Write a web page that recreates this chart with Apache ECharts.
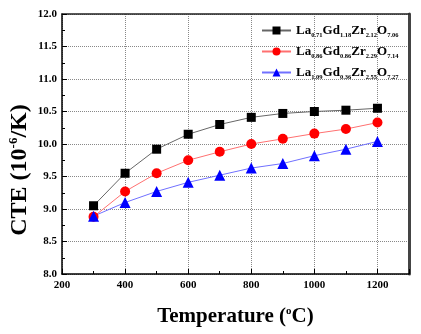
<!DOCTYPE html>
<html><head><meta charset="utf-8">
<script src="https://cdn.jsdelivr.net/npm/echarts@6/dist/echarts.min.js"></script>
<style>html,body{margin:0;padding:0;background:#fff}#c{width:421px;height:334px}</style>
</head><body><div id="c"></div>
<script>
var temperatures = [300, 400, 500, 600, 700, 800, 900, 1000, 1100, 1200];
var cteA = [9.05, 9.55, 9.92, 10.15, 10.30, 10.41, 10.47, 10.50, 10.52, 10.55];
var cteB = [8.88, 9.27, 9.55, 9.75, 9.88, 10.00, 10.08, 10.16, 10.23, 10.33];
var cteC = [8.89, 9.10, 9.27, 9.41, 9.52, 9.63, 9.70, 9.82, 9.92, 10.04];
var nameA = ['La','0.71','Gd','1.18','Zr','2.12','O','7.06'];
var nameB = ['La','0.86','Gd','0.86','Zr','2.29','O','7.14'];
var nameC = ['La','1.09','Gd','0.36','Zr','2.55','O','7.27'];
var xTicks = {min: 200, max: 1300, interval: 200};
var yTicks = {min: 8, max: 12, interval: 0.5};

function label(parts){ return parts.join('|'); }
function richName(s){
  var p = s.split('|'), out = '';
  for (var i = 0; i < p.length; i++) out += (i % 2 === 0 ? '{m|' : '{s|') + p[i] + '}';
  return out;
}
function pairs(ys){ return temperatures.map(function(t,i){ return [t, ys[i]]; }); }

var serif = '"Liberation Serif", "Times New Roman", serif';
var chart = echarts.init(document.getElementById('c'), null, {renderer:'canvas'});
chart.setOption({
  animation:false,
  grid:{left:62, right:12, top:14, bottom:60, containLabel:false, outerBoundsMode:'none'},
  legend:{
    orient:'vertical', left:256, top:17, itemGap:4, itemWidth:29, itemHeight:10,
    formatter:function(n){ return richName(n); },
    textStyle:{
      fontFamily:serif, fontWeight:'bold', color:'#000',
      rich:{
        m:{fontFamily:serif, fontWeight:'bold', fontSize:13, lineHeight:16, color:'#000'},
        s:{fontFamily:serif, fontWeight:'bold', fontSize:6.5, lineHeight:7, padding:[10,0,0,0], color:'#000'}
      }
    }
  },
  xAxis:[{
    type:'value', min:xTicks.min, max:xTicks.max, interval:xTicks.interval,
    name:'Temperature ({sup|o}C)', nameLocation:'middle', nameGap:32,
    nameTextStyle:{fontFamily:serif, fontWeight:'bold', fontSize:21, color:'#000',
      rich:{sup:{fontFamily:serif, fontWeight:'bold', fontSize:11, padding:[0,0,11,0], color:'#000'}}},
    axisLine:{onZero:false, lineStyle:{color:'#000', width:1.5}},
    axisTick:{inside:true, length:5, lineStyle:{color:'#000'}},
    minorTick:{show:true, splitNumber:2, length:3, lineStyle:{color:'#000'}},
    axisLabel:{showMaxLabel:false, formatter:function(v){return String(v);}, fontFamily:serif, fontWeight:'bold', fontSize:11, color:'#000', margin:6},
    splitLine:{show:true, lineStyle:{color:'#888', type:'dotted', width:1}}
  },{
    type:'value', position:'top', min:xTicks.min, max:xTicks.max, interval:xTicks.interval,
    axisLine:{onZero:false, lineStyle:{color:'#222', width:1.5}},
    axisTick:{show:false}, axisLabel:{show:false}, splitLine:{show:false}
  }],
  yAxis:[{
    type:'value', min:yTicks.min, max:yTicks.max, interval:yTicks.interval,
    name:'CTE (10{sup|-6}/K)', nameLocation:'middle', nameGap:30, nameRotate:90, nameMoveOverlap:false,
    nameTextStyle:{fontFamily:serif, fontWeight:'bold', fontSize:24, color:'#000', padding:[0,52,0,0],
      rich:{sup:{fontFamily:serif, fontWeight:'bold', fontSize:13, padding:[0,0,12,0], color:'#000'}}},
    axisLine:{onZero:false, lineStyle:{color:'#000', width:1.5}},
    axisTick:{inside:true, length:5, lineStyle:{color:'#000'}},
    minorTick:{show:true, splitNumber:2, length:3, lineStyle:{color:'#000'}},
    axisLabel:{formatter:function(v){return v.toFixed(1);}, fontFamily:serif, fontWeight:'bold', fontSize:11, color:'#000', margin:5},
    splitLine:{show:true, lineStyle:{color:'#888', type:'dotted', width:1}}
  },{
    type:'value', position:'right', min:yTicks.min, max:yTicks.max, interval:yTicks.interval,
    axisLine:{onZero:false, lineStyle:{color:'#444', width:3}},
    axisTick:{show:false}, axisLabel:{show:false}, splitLine:{show:false}
  }],
  series:[
    {name:label(nameA), type:'line', data:pairs(cteA), symbol:'rect', symbolSize:9,
     itemStyle:{color:'#000'}, lineStyle:{color:'#666', width:1}},
    {name:label(nameB), type:'line', data:pairs(cteB), symbol:'circle', symbolSize:10,
     itemStyle:{color:'#ff0000'}, lineStyle:{color:'#ff7070', width:1}},
    {name:label(nameC), type:'line', data:pairs(cteC), symbol:'triangle', symbolSize:11,
     itemStyle:{color:'#0000ff'}, lineStyle:{color:'#7070ff', width:1}}
  ]
});
</script></body></html>
